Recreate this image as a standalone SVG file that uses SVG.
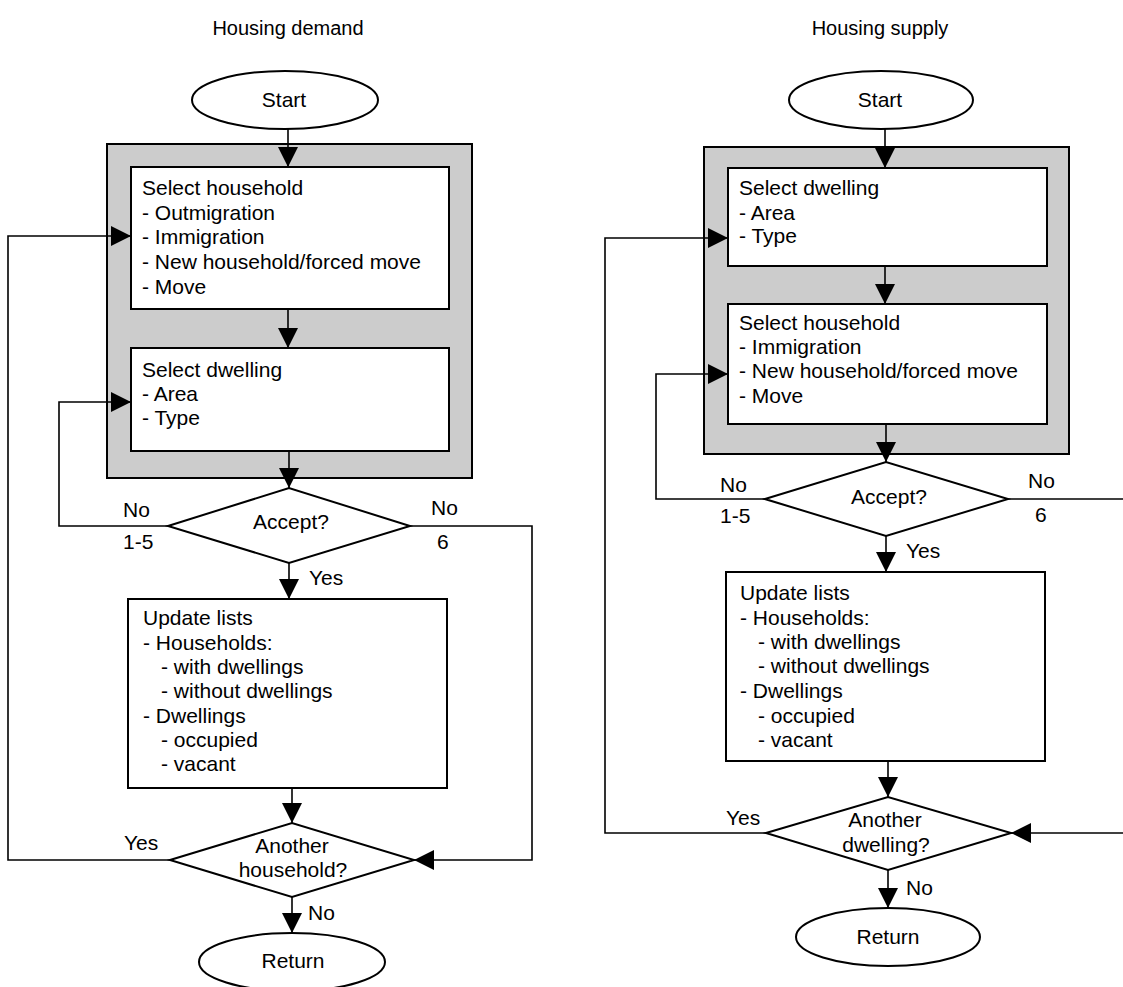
<svg xmlns="http://www.w3.org/2000/svg" width="1123" height="987" viewBox="0 0 1123 987">
<style>
text{font-family:"Liberation Sans",Arial,sans-serif;font-size:21px;fill:#000}
.c{text-anchor:middle}
.t{font-size:20px}
.box{fill:#fff;stroke:#000;stroke-width:2}
.grey{fill:#ccc;stroke:#000;stroke-width:2}
.conn{fill:none;stroke:#000;stroke-width:1.6}
</style>
<defs>
<marker id="ah" markerUnits="userSpaceOnUse" markerWidth="20" markerHeight="20" refX="20" refY="10" orient="auto">
<path d="M0,0 L20,10 L0,20 z" fill="#000"/>
</marker>
</defs>
<rect width="1123" height="987" fill="#fff"/>
<g id="titles">
<text class="c t" x="288" y="35">Housing demand</text>
<text class="c t" x="880" y="35">Housing supply</text>
</g>
<!-- Left diagram -->
<g id="L-group"><rect class="grey" x="107" y="144" width="365" height="334"/></g>
<g id="L-start"><ellipse class="box" cx="285" cy="100" rx="93" ry="29"/><text class="c" x="284" y="107">Start</text></g>
<g id="L-selhh"><rect class="box" x="131" y="167" width="318" height="142"/>
<text x="142" y="195">Select household</text><text x="142" y="220">- Outmigration</text><text x="142" y="244">- Immigration</text><text x="142" y="269">- New household/forced move</text><text x="142" y="294">- Move</text></g>
<g id="L-seldw"><rect class="box" x="131" y="348" width="318" height="103"/>
<text x="142" y="377">Select dwelling</text><text x="142" y="401">- Area</text><text x="142" y="425">- Type</text></g>
<g id="L-accept"><polygon class="box" points="168,526 289,488 410,526 289,563"/><text class="c" x="291" y="529">Accept?</text></g>
<g id="L-update"><rect class="box" x="128" y="599" width="319" height="189"/>
<text x="143" y="625">Update lists</text><text x="143" y="650">- Households:</text><text x="161" y="674">- with dwellings</text><text x="161" y="698">- without dwellings</text><text x="143" y="723">- Dwellings</text><text x="161" y="747">- occupied</text><text x="161" y="771">- vacant</text></g>
<g id="L-another"><polygon class="box" points="170,860 292,823 414,860 292,897"/><text class="c" x="292" y="853">Another</text><text class="c" x="293" y="877">household?</text></g>
<g id="L-return"><ellipse class="box" cx="292" cy="962" rx="93" ry="29"/><text class="c" x="293" y="968">Return</text></g>
<!-- Right diagram -->
<g id="R-group"><rect class="grey" x="704" y="147" width="365" height="307"/></g>
<g id="R-start"><ellipse class="box" cx="881" cy="100" rx="92" ry="29"/><text class="c" x="880" y="107">Start</text></g>
<g id="R-seldw"><rect class="box" x="728" y="168" width="319" height="98"/>
<text x="739" y="195">Select dwelling</text><text x="739" y="220">- Area</text><text x="739" y="243">- Type</text></g>
<g id="R-selhh"><rect class="box" x="728" y="304" width="319" height="120"/>
<text x="739" y="330">Select household</text><text x="739" y="354">- Immigration</text><text x="739" y="378">- New household/forced move</text><text x="739" y="403">- Move</text></g>
<g id="R-accept"><polygon class="box" points="765,499 886,462 1008,499 886,536"/><text class="c" x="889" y="504">Accept?</text></g>
<g id="R-update"><rect class="box" x="726" y="572" width="319" height="189"/>
<text x="740" y="600">Update lists</text><text x="740" y="625">- Households:</text><text x="758" y="649">- with dwellings</text><text x="758" y="673">- without dwellings</text><text x="740" y="698">- Dwellings</text><text x="758" y="723">- occupied</text><text x="758" y="747">- vacant</text></g>
<g id="R-another"><polygon class="box" points="766,833 888,797 1011,833 888,870"/><text class="c" x="885" y="827">Another</text><text class="c" x="886" y="852">dwelling?</text></g>
<g id="R-return"><ellipse class="box" cx="888" cy="937" rx="92" ry="29"/><text class="c" x="888" y="944">Return</text></g>
<g id="connectors">
<path class="conn" marker-end="url(#ah)" d="M288,129 V167"/>
<path class="conn" marker-end="url(#ah)" d="M288,309 V348"/>
<path class="conn" marker-end="url(#ah)" d="M289,451 V488"/>
<path class="conn" marker-end="url(#ah)" d="M168,526 H59 V402 H131"/>
<path class="conn" marker-end="url(#ah)" d="M410,526 H532 V860 H414"/>
<path class="conn" marker-end="url(#ah)" d="M289,563 V599"/>
<path class="conn" marker-end="url(#ah)" d="M292,788 V823"/>
<path class="conn" marker-end="url(#ah)" d="M170,860 H8 V236 H131"/>
<path class="conn" marker-end="url(#ah)" d="M292,897 V933"/>
<path class="conn" marker-end="url(#ah)" d="M885,129 V168"/>
<path class="conn" marker-end="url(#ah)" d="M885,266 V304"/>
<path class="conn" marker-end="url(#ah)" d="M886,424 V462"/>
<path class="conn" marker-end="url(#ah)" d="M765,499 H656 V374 H728"/>
<path class="conn" d="M1008,499 H1123"/>
<path class="conn" marker-end="url(#ah)" d="M886,536 V572"/>
<path class="conn" marker-end="url(#ah)" d="M888,761 V797"/>
<path class="conn" marker-end="url(#ah)" d="M766,833 H605 V238 H728"/>
<path class="conn" marker-end="url(#ah)" d="M1123,833 H1011"/>
<path class="conn" marker-end="url(#ah)" d="M888,870 V908"/>
</g>
<g id="labels">
<text x="123" y="517">No</text><text x="123" y="549">1-5</text>
<text x="431" y="515">No</text><text x="437" y="549">6</text>
<text x="309" y="585">Yes</text>
<text x="124" y="850">Yes</text>
<text x="308" y="920">No</text>
<text x="720" y="492">No</text><text x="720" y="523">1-5</text>
<text x="1028" y="488">No</text><text x="1035" y="522">6</text>
<text x="906" y="558">Yes</text>
<text x="726" y="825">Yes</text>
<text x="906" y="895">No</text>
</g>
</svg>
